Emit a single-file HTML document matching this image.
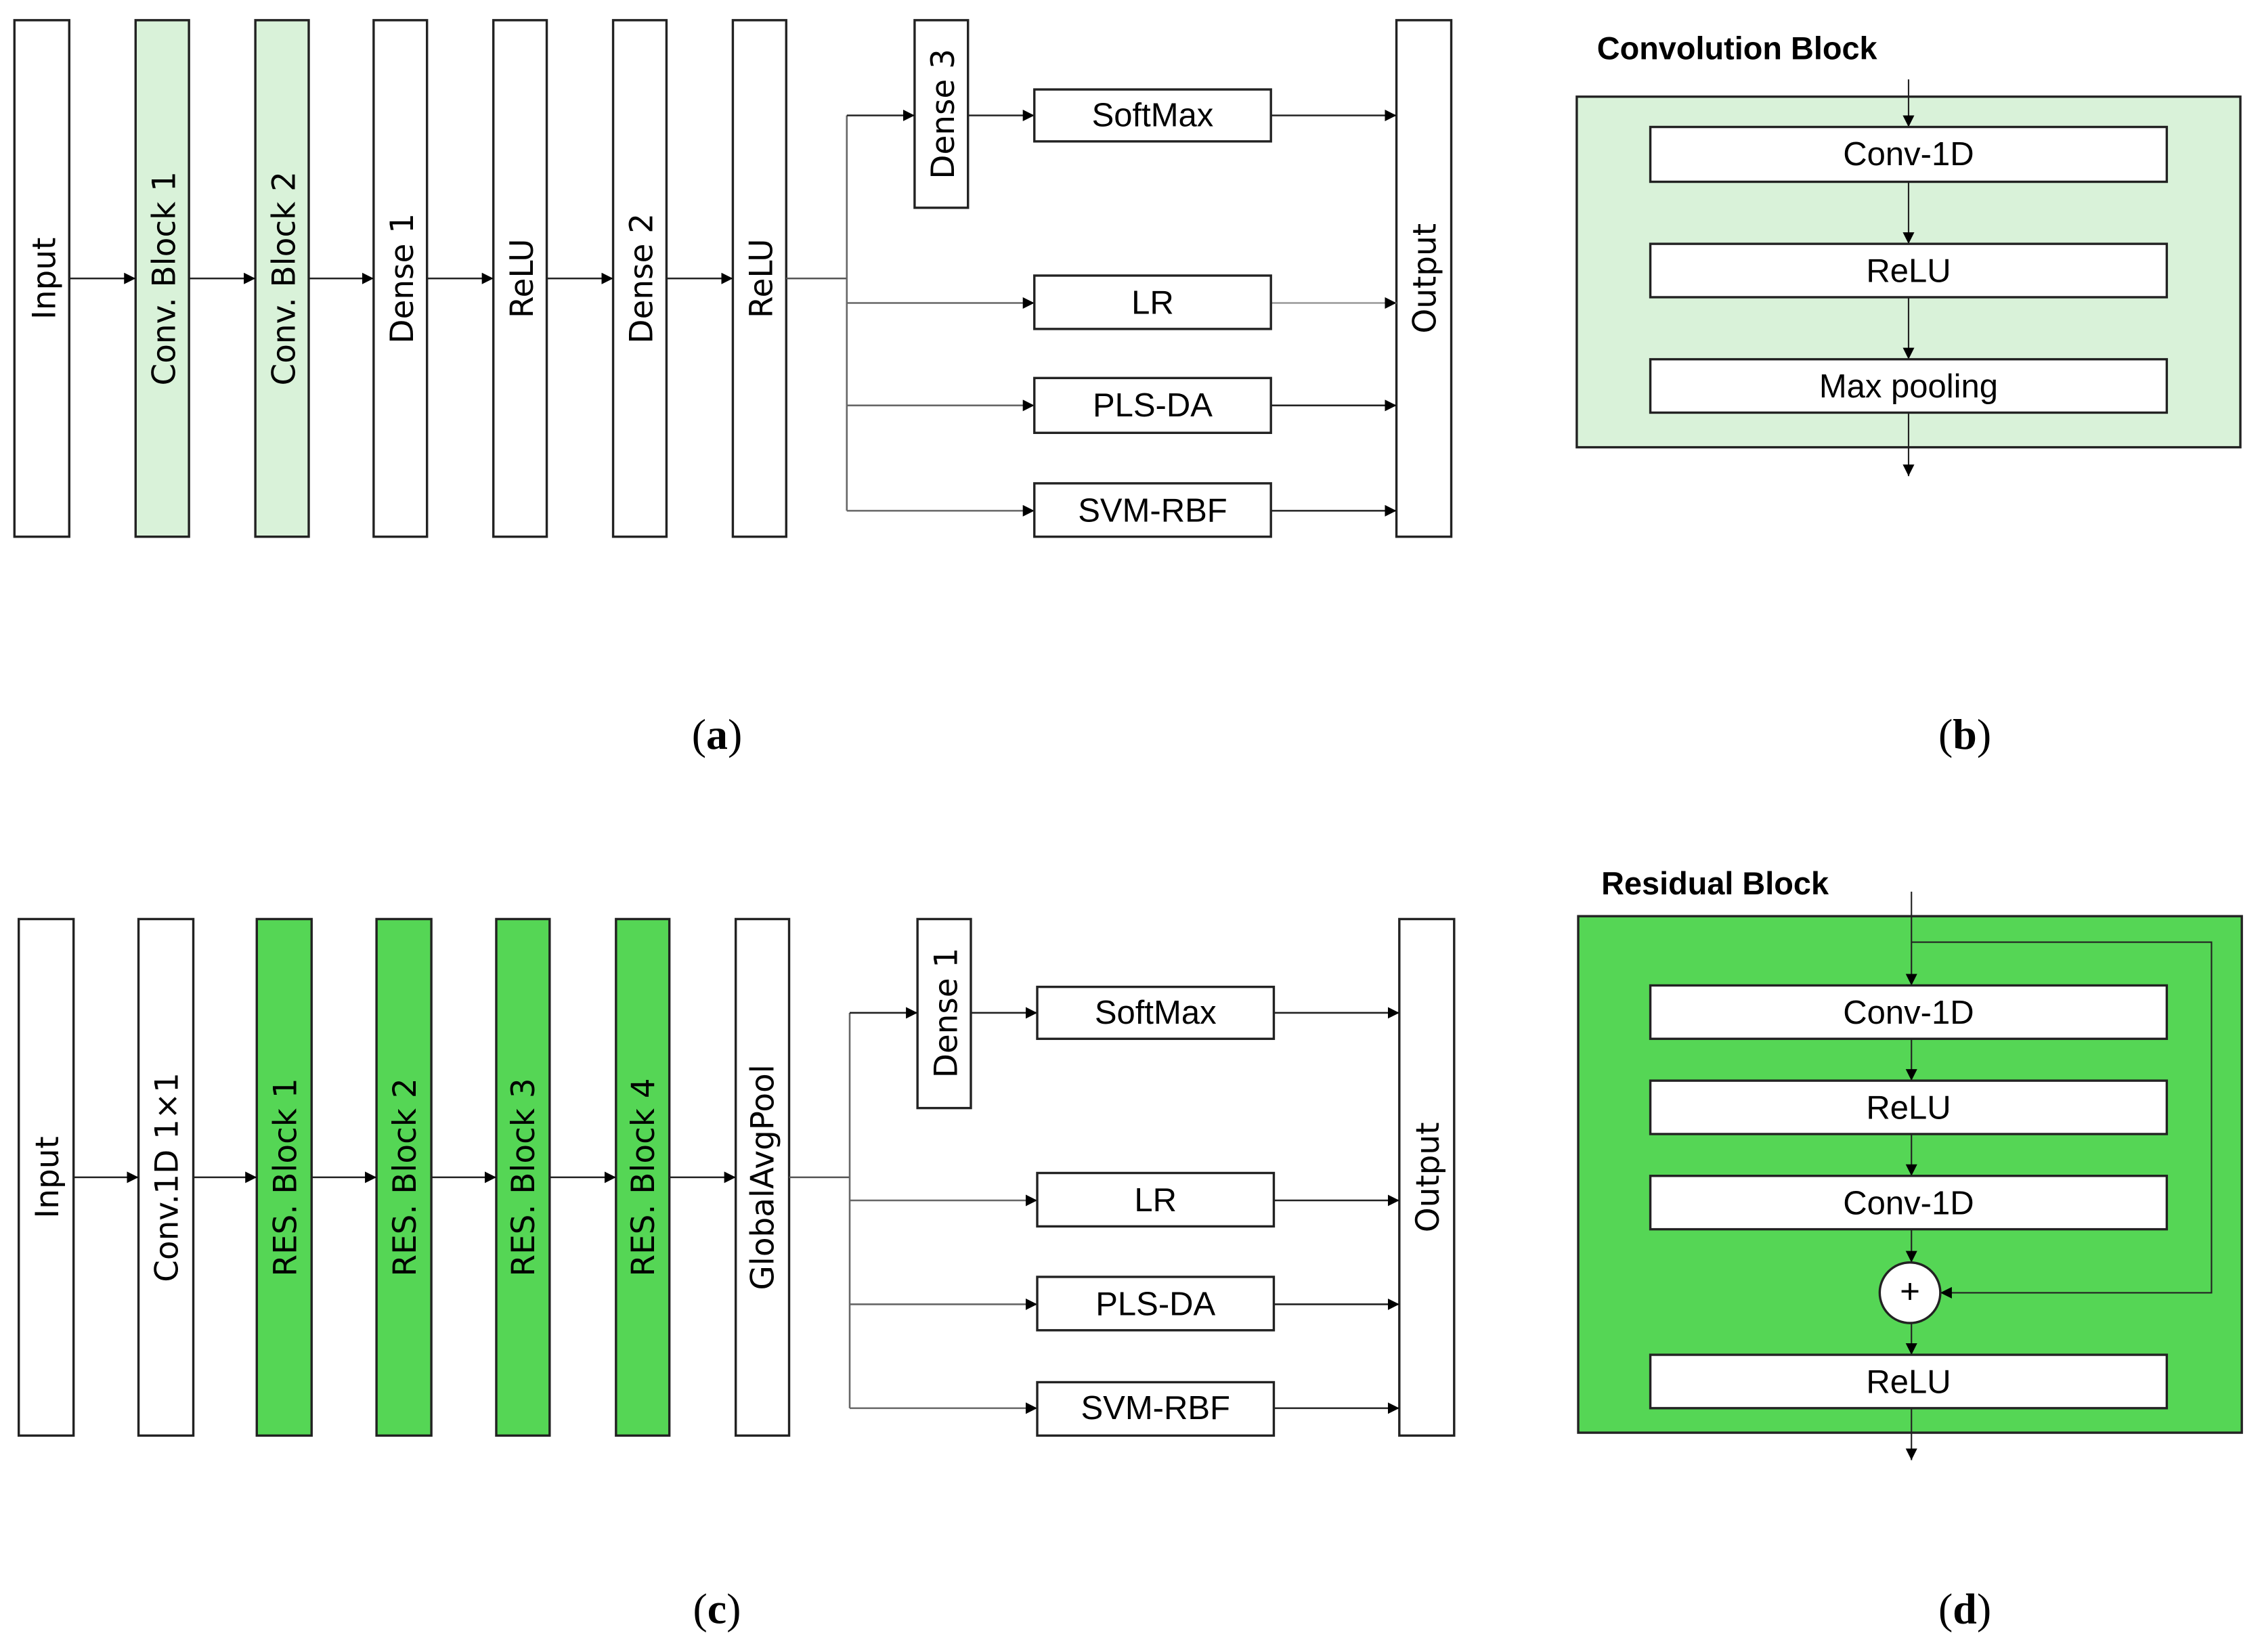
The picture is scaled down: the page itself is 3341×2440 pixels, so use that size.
<!DOCTYPE html>
<html><head><meta charset="utf-8"><style>html,body{margin:0;padding:0;background:#fff}svg{display:block}</style></head>
<body>
<svg xmlns="http://www.w3.org/2000/svg" width="3341" height="2440" viewBox="0 0 1568 1145" preserveAspectRatio="none">
<defs>
<marker id="ar" viewBox="0 0 10 10" refX="10" refY="5" markerWidth="8" markerHeight="8" markerUnits="userSpaceOnUse" orient="auto"><path d="M0,0 L10,5 L0,10 z" fill="#000"/></marker>
</defs>
<g stroke="#222" stroke-width="1.6" font-family="'DejaVu Sans',sans-serif" font-size="22">
<g fill="#fff">
<rect x="10" y="14" width="38" height="358"/>
<rect x="94" y="14" width="37" height="358" fill="#d9f2d9"/>
<rect x="177" y="14" width="37" height="358" fill="#d9f2d9"/>
<rect x="259" y="14" width="37" height="358"/>
<rect x="342" y="14" width="37" height="358"/>
<rect x="425" y="14" width="37" height="358"/>
<rect x="508" y="14" width="37" height="358"/>
<rect x="634" y="14" width="37" height="130"/>
<rect x="968" y="14" width="38" height="358"/>
</g>
<g fill="#000" stroke="none" text-anchor="middle" dominant-baseline="central">
<text transform="translate(31,193) rotate(-90)">Input</text>
<text transform="translate(114,193) rotate(-90)">Conv. Block 1</text>
<text transform="translate(197,193) rotate(-90)">Conv. Block 2</text>
<text transform="translate(279,193) rotate(-90)">Dense 1</text>
<text transform="translate(362,193) rotate(-90)">ReLU</text>
<text transform="translate(445,193) rotate(-90)">Dense 2</text>
<text transform="translate(528,193) rotate(-90)">ReLU</text>
<text transform="translate(654,79) rotate(-90)">Dense 3</text>
<text transform="translate(988,193) rotate(-90)">Output</text>
</g>
<g stroke-width="1.2" fill="none">
<line x1="48" y1="193" x2="94" y2="193" marker-end="url(#ar)"/>
<line x1="131" y1="193" x2="177" y2="193" marker-end="url(#ar)"/>
<line x1="214" y1="193" x2="259" y2="193" marker-end="url(#ar)"/>
<line x1="296" y1="193" x2="342" y2="193" marker-end="url(#ar)"/>
<line x1="379" y1="193" x2="425" y2="193" marker-end="url(#ar)"/>
<line x1="462" y1="193" x2="508" y2="193" marker-end="url(#ar)"/>
<polyline points="545,193 587,193" stroke="#555"/>
<line x1="587" y1="80" x2="587" y2="354" stroke="#666"/>
<line x1="587" y1="80" x2="634" y2="80" marker-end="url(#ar)"/>
<line x1="671" y1="80" x2="717" y2="80" marker-end="url(#ar)"/>
<line x1="587" y1="210" x2="717" y2="210" stroke="#666" marker-end="url(#ar)"/>
<line x1="587" y1="281" x2="717" y2="281" stroke="#666" marker-end="url(#ar)"/>
<line x1="587" y1="354" x2="717" y2="354" stroke="#666" marker-end="url(#ar)"/>
<line x1="881" y1="80" x2="968" y2="80" marker-end="url(#ar)"/>
<line x1="881" y1="210" x2="968" y2="210" stroke="#999" marker-end="url(#ar)"/>
<line x1="881" y1="281" x2="968" y2="281" marker-end="url(#ar)"/>
<line x1="881" y1="354" x2="968" y2="354" marker-end="url(#ar)"/>
</g>
<g fill="#fff">
<rect x="717" y="62" width="164" height="36"/>
<rect x="717" y="191" width="164" height="37"/>
<rect x="717" y="262" width="164" height="38"/>
<rect x="717" y="335" width="164" height="37"/>
</g>
<g fill="#000" stroke="none" text-anchor="middle" dominant-baseline="central" font-family="'Liberation Sans',sans-serif" font-size="23">
<text x="799" y="80">SoftMax</text>
<text x="799" y="210">LR</text>
<text x="799" y="281">PLS-DA</text>
<text x="799" y="354">SVM-RBF</text>
</g>

<text x="1107" y="41" fill="#000" stroke="none" font-family="'Liberation Sans',sans-serif" font-weight="bold" font-size="22">Convolution Block</text>
<rect x="1093" y="67" width="460" height="243" fill="#d9f2d9"/>
<g stroke-width="1" fill="none">
<line x1="1323" y1="55" x2="1323" y2="88" marker-end="url(#ar)"/>
<line x1="1323" y1="126" x2="1323" y2="169" marker-end="url(#ar)"/>
<line x1="1323" y1="206" x2="1323" y2="249" marker-end="url(#ar)"/>
<line x1="1323" y1="286" x2="1323" y2="330" marker-end="url(#ar)"/>
</g>
<g fill="#fff">
<rect x="1144" y="88" width="358" height="38"/>
<rect x="1144" y="169" width="358" height="37"/>
<rect x="1144" y="249" width="358" height="37"/>
</g>
<g fill="#000" stroke="none" text-anchor="middle" dominant-baseline="central" font-family="'Liberation Sans',sans-serif" font-size="23">
<text x="1323" y="107">Conv-1D</text>
<text x="1323" y="188">ReLU</text>
<text x="1323" y="268">Max pooling</text>
</g>

<g fill="#fff">
<rect x="13" y="637" width="38" height="358"/>
<rect x="96" y="637" width="38" height="358"/>
<rect x="178" y="637" width="38" height="358" fill="#55d655"/>
<rect x="261" y="637" width="38" height="358" fill="#55d655"/>
<rect x="344" y="637" width="37" height="358" fill="#55d655"/>
<rect x="427" y="637" width="37" height="358" fill="#55d655"/>
<rect x="510" y="637" width="37" height="358"/>
<rect x="636" y="637" width="37" height="131"/>
<rect x="970" y="637" width="38" height="358"/>
</g>
<g fill="#000" stroke="none" text-anchor="middle" dominant-baseline="central">
<text transform="translate(33,816) rotate(-90)">Input</text>
<text transform="translate(116,816) rotate(-90)">Conv.1D 1×1</text>
<text transform="translate(198,816) rotate(-90)">RES. Block 1</text>
<text transform="translate(281,816) rotate(-90)">RES. Block 2</text>
<text transform="translate(363,816) rotate(-90)">RES. Block 3</text>
<text transform="translate(446,816) rotate(-90)">RES. Block 4</text>
<text transform="translate(529,816) rotate(-90)">GlobalAvgPool</text>
<text transform="translate(656,702) rotate(-90)">Dense 1</text>
<text transform="translate(990,816) rotate(-90)">Output</text>
</g>
<g stroke-width="1.2" fill="none">
<line x1="51" y1="816" x2="96" y2="816" marker-end="url(#ar)"/>
<line x1="134" y1="816" x2="178" y2="816" marker-end="url(#ar)"/>
<line x1="216" y1="816" x2="261" y2="816" marker-end="url(#ar)"/>
<line x1="299" y1="816" x2="344" y2="816" marker-end="url(#ar)"/>
<line x1="381" y1="816" x2="427" y2="816" marker-end="url(#ar)"/>
<line x1="464" y1="816" x2="510" y2="816" marker-end="url(#ar)"/>
<line x1="547" y1="816" x2="589" y2="816" stroke="#555"/>
<line x1="589" y1="702" x2="589" y2="976" stroke="#666"/>
<line x1="589" y1="702" x2="636" y2="702" marker-end="url(#ar)"/>
<line x1="673" y1="702" x2="719" y2="702" marker-end="url(#ar)"/>
<line x1="589" y1="832" x2="719" y2="832" stroke="#666" marker-end="url(#ar)"/>
<line x1="589" y1="904" x2="719" y2="904" stroke="#666" marker-end="url(#ar)"/>
<line x1="589" y1="976" x2="719" y2="976" stroke="#666" marker-end="url(#ar)"/>
<line x1="883" y1="702" x2="970" y2="702" marker-end="url(#ar)"/>
<line x1="883" y1="832" x2="970" y2="832" marker-end="url(#ar)"/>
<line x1="883" y1="904" x2="970" y2="904" marker-end="url(#ar)"/>
<line x1="883" y1="976" x2="970" y2="976" marker-end="url(#ar)"/>
</g>
<g fill="#fff">
<rect x="719" y="684" width="164" height="36"/>
<rect x="719" y="813" width="164" height="37"/>
<rect x="719" y="885" width="164" height="37"/>
<rect x="719" y="958" width="164" height="37"/>
</g>
<g fill="#000" stroke="none" text-anchor="middle" dominant-baseline="central" font-family="'Liberation Sans',sans-serif" font-size="23">
<text x="801" y="702">SoftMax</text>
<text x="801" y="832">LR</text>
<text x="801" y="904">PLS-DA</text>
<text x="801" y="976">SVM-RBF</text>
</g>

<text x="1110" y="620" fill="#000" stroke="none" font-family="'Liberation Sans',sans-serif" font-weight="bold" font-size="22">Residual Block</text>
<rect x="1094" y="635" width="460" height="358" fill="#55d655"/>
<g stroke-width="1" fill="none">
<line x1="1325" y1="618" x2="1325" y2="683" marker-end="url(#ar)"/>
<polyline points="1325,653 1533,653 1533,896 1345,896" marker-end="url(#ar)"/>
<line x1="1325" y1="720" x2="1325" y2="749" marker-end="url(#ar)"/>
<line x1="1325" y1="786" x2="1325" y2="815" marker-end="url(#ar)"/>
<line x1="1325" y1="852" x2="1325" y2="875" marker-end="url(#ar)"/>
<line x1="1325" y1="917" x2="1325" y2="939" marker-end="url(#ar)"/>
<line x1="1325" y1="976" x2="1325" y2="1012" marker-end="url(#ar)"/>
</g>
<g fill="#fff">
<rect x="1144" y="683" width="358" height="37"/>
<rect x="1144" y="749" width="358" height="37"/>
<rect x="1144" y="815" width="358" height="37"/>
<rect x="1144" y="939" width="358" height="37"/>
<circle cx="1324" cy="896" r="21"/>
</g>
<g fill="#000" stroke="none" text-anchor="middle" dominant-baseline="central" font-family="'Liberation Sans',sans-serif" font-size="23">
<text x="1323" y="702">Conv-1D</text>
<text x="1323" y="768">ReLU</text>
<text x="1323" y="834">Conv-1D</text>
<text x="1324" y="895" font-size="24">+</text>
<text x="1323" y="958">ReLU</text>
</g>

<g fill="#000" stroke="none" text-anchor="middle" font-family="'Liberation Serif',serif" font-size="30">
<text x="497" y="519">(<tspan font-weight="bold">a</tspan>)</text>
<text x="1362" y="519">(<tspan font-weight="bold">b</tspan>)</text>
<text x="497" y="1125">(<tspan font-weight="bold">c</tspan>)</text>
<text x="1362" y="1125">(<tspan font-weight="bold">d</tspan>)</text>
</g>
</g>
</svg>
</body></html>
